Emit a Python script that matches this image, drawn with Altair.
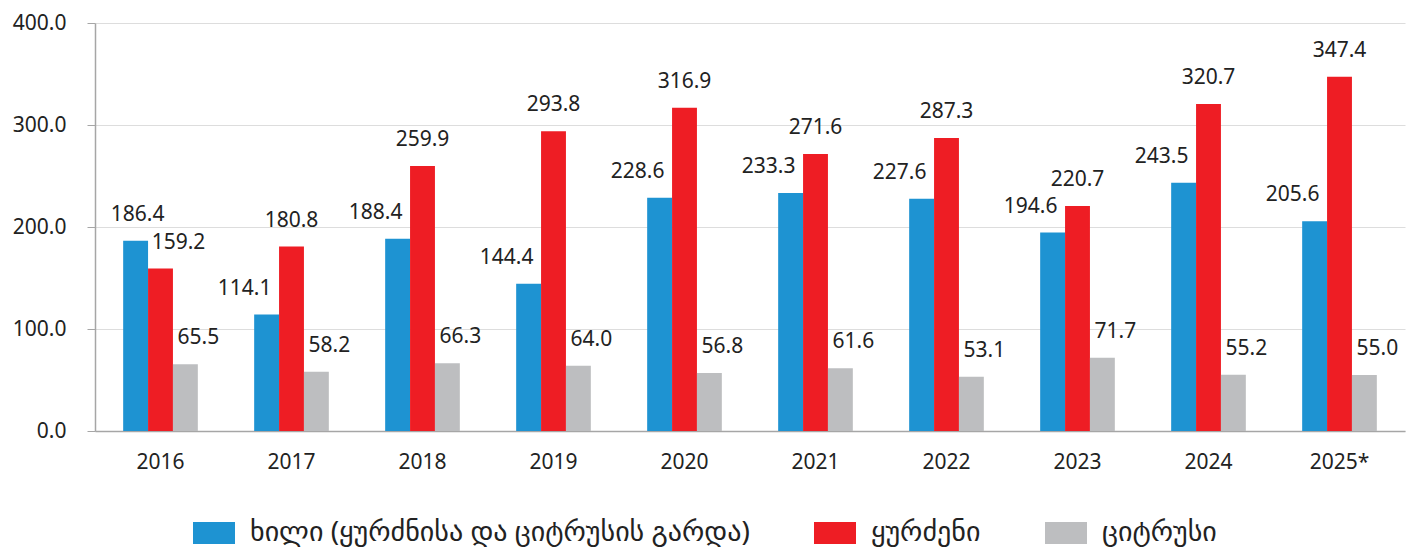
import altair as alt
import pandas as pd
import json

years = ["2016", "2017", "2018", "2019", "2020", "2021", "2022", "2023", "2024", "2025*"]
series = ["ხილი (ყურძნისა და ციტრუსის გარდა)", "ყურძენი", "ციტრუსი"]
fruit = [186.4, 114.1, 188.4, 144.4, 228.6, 233.3, 227.6, 194.6, 243.5, 205.6]
grapes = [159.2, 180.8, 259.9, 293.8, 316.9, 271.6, 287.3, 220.7, 320.7, 347.4]
citrus = [65.5, 58.2, 66.3, 64.0, 56.8, 61.6, 53.1, 71.7, 55.2, 55.0]
colors = ["#1E93D2", "#EE1D24", "#BDBEC0"]

# label horizontal nudges (style): default per series, with a few per-point overrides
label_dx_default = [-22, 0, 13]
label_dx_override = {(0, "2016"): 2, (1, "2016"): 18}

rows = []
for s_i, (name, vals) in enumerate(zip(series, [fruit, grapes, citrus])):
    for y, v in zip(years, vals):
        rows.append({"year": y, "series": name, "order": s_i, "value": v})
df = pd.DataFrame(rows)

FONT = "Noto Sans, DejaVu Sans"

x_enc = alt.X("year:N", sort=years, title=None,
              scale=alt.Scale(paddingInner=0.43, paddingOuter=0.215),
              axis=alt.Axis(labelAngle=0, labelFontSize=21, labelColor="#222222",
                            labelPadding=20, ticks=False, domainColor="#A6A6A6",
                            domainWidth=1.5, grid=False))
y_enc = alt.Y("value:Q", title=None,
              scale=alt.Scale(domain=[0, 400], nice=False),
              axis=alt.Axis(values=[0, 100, 200, 300, 400], format=".1f",
                            labelFontSize=21, labelColor="#222222", labelPadding=21,
                            tickSize=8, tickColor="#A6A6A6", domainColor="#A6A6A6",
                            domainWidth=1.5, gridColor="#DDDDDD", gridWidth=1))

base = alt.Chart(df)

bars = base.mark_bar().encode(
    x=x_enc,
    y=y_enc,
    xOffset=alt.XOffset("series:N", sort=series),
    color=alt.Color("series:N", sort=series,
                    scale=alt.Scale(domain=series, range=colors),
                    legend=alt.Legend(title=None, orient="none", direction="horizontal",
                                      legendX=98, legendY=489,
                                      symbolType="M-1,-0.52H1V0.52H-1Z", symbolSize=1764,
                                      symbolStrokeWidth=0, labelFontSize=28,
                                      labelColor="#222222", labelOffset=15,
                                      columnPadding=64, labelLimit=800,
                                      labelFont=FONT)),
)

layers = [bars]
for s_i, name in enumerate(series):
    special_years = [y for (si, y) in label_dx_override if si == s_i]
    groups = [(label_dx_default[s_i], [y for y in years if y not in special_years])]
    for y in special_years:
        groups.append((label_dx_override[(s_i, y)], [y]))
    for dx, yrs in groups:
        if not yrs:
            continue
        expr = f"datum.order == {s_i} && indexof({json.dumps(yrs)}, datum.year) >= 0"
        t = base.transform_filter(expr).mark_text(
            fontSize=21, color="#222222", baseline="middle", dy=-26, dx=dx
        ).encode(
            x=alt.X("year:N", sort=years),
            xOffset=alt.XOffset("series:N", sort=series),
            y=alt.Y("value:Q"),
            text=alt.Text("value:Q", format=".1f"),
        )
        layers.append(t)

chart = alt.layer(*layers).properties(
    width=1310, height=408,
    autosize=alt.AutoSizeParams(type="none"),
    padding={"left": 95, "top": 23, "right": 8, "bottom": 120},
).configure(font=FONT).configure_view(stroke=None)

chart.save("out.html", embed_options={"renderer": "svg", "actions": False})
